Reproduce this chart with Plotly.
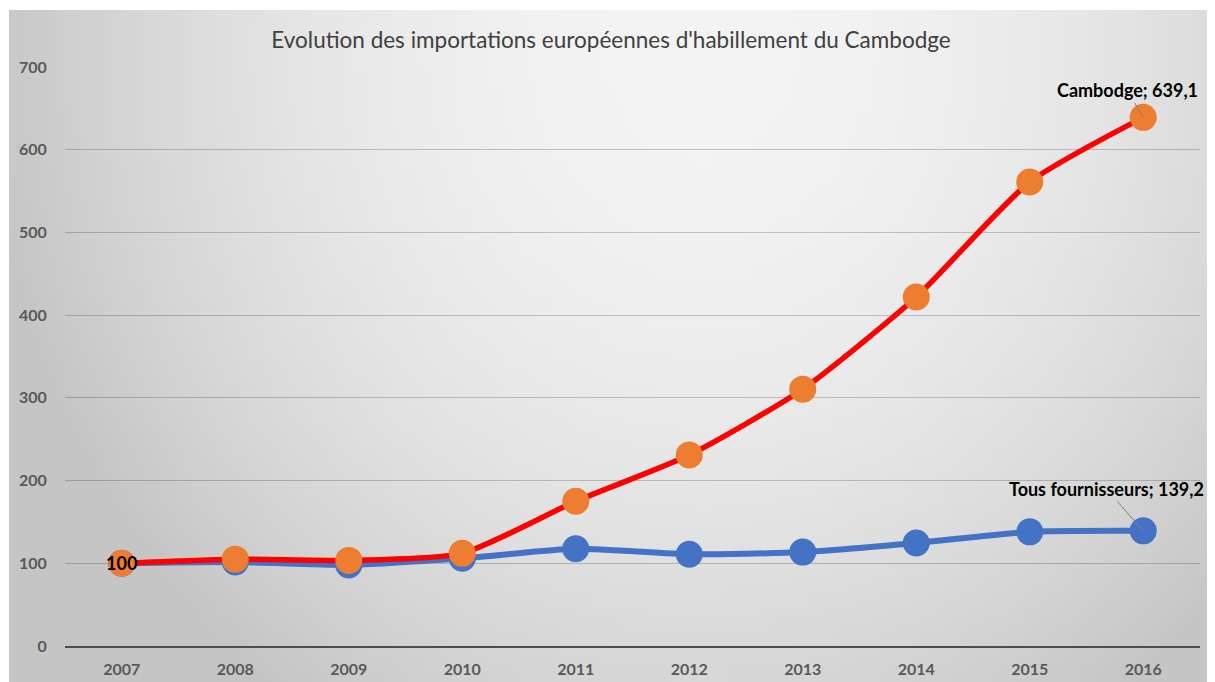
import base64, struct, zlib
import numpy as np
import plotly.graph_objects as go

years = ["2007", "2008", "2009", "2010", "2011", "2012", "2013", "2014", "2015", "2016"]
cambodge = [100, 105, 103.5, 112, 175, 231, 310.5, 422, 561, 639.1]
tous_fournisseurs = [100, 101.5, 98, 106, 117.5, 111, 113.5, 124.5, 138, 139.2]
title_text = "Evolution des importations européennes d'habillement du Cambodge"
y_ticks = [0, 100, 200, 300, 400, 500, 600, 700]

# the page body adds an 8px margin, so figure coordinates = page coordinates - 8
W, H = 1207, 674
L, R, T, B = 57, 1192, 59, 638
BG_X0, BG_Y0 = 1, 2


def gradient_png():
    w, h = 121, 67
    xs = (np.arange(w) + 0.5) / w * (W - BG_X0) + BG_X0 + 8
    ys = (np.arange(h) + 0.5) / h * (H - BG_Y0) + BG_Y0 + 8
    X, Y = np.meshgrid(xs, ys)
    d2 = ((X - 700) / 720) ** 2 + ((Y - 50) / 800) ** 2
    c = 244 - 47 * np.minimum(d2, 1.0)
    arr = np.clip(c, 0, 255).astype(np.uint8)
    rgb = np.stack([arr, arr, arr], axis=-1)
    raw = b"".join(b"\x00" + rgb[i].tobytes() for i in range(h))

    def chunk(tag, data):
        return struct.pack(">I", len(data)) + tag + data + struct.pack(">I", zlib.crc32(tag + data) & 0xFFFFFFFF)

    png = b"\x89PNG\r\n\x1a\n" + chunk(b"IHDR", struct.pack(">IIBBBBB", w, h, 8, 2, 0, 0, 0)) \
        + chunk(b"IDAT", zlib.compress(raw, 9)) + chunk(b"IEND", b"")
    return "data:image/png;base64," + base64.b64encode(png).decode()


pw, ph = R - L, B - T
FONT = "Lato"
idx = list(range(len(years)))

fig = go.Figure()
fig.add_trace(go.Scatter(
    x=idx, y=tous_fournisseurs, mode="lines+markers", name="Tous fournisseurs",
    line=dict(color="#4472C4", width=6, shape="spline", smoothing=0.6),
    marker=dict(color="#4472C4", size=27, line=dict(width=0)),
    showlegend=False,
))
fig.add_trace(go.Scatter(
    x=idx, y=cambodge, mode="lines+markers", name="Cambodge",
    line=dict(color="#FF0000", width=5.5, shape="spline", smoothing=0.6),
    marker=dict(color="#ED7D31", size=27, line=dict(width=0)),
    showlegend=False,
))

fig.add_annotation(x=idx[-1], y=cambodge[-1], text="<b>Cambodge; 639,1</b>",
                   showarrow=True, arrowhead=0, arrowwidth=1, arrowcolor="#7f7f7f",
                   ax=-16, ay=-27, standoff=0,
                   font=dict(family=FONT, size=18, color="#000000"))
fig.add_annotation(x=idx[-1], y=tous_fournisseurs[-1], text="<b>Tous fournisseurs; 139,2</b>",
                   showarrow=True, arrowhead=0, arrowwidth=1, arrowcolor="#7f7f7f",
                   ax=-37, ay=-42, standoff=0,
                   font=dict(family=FONT, size=18, color="#000000"))
fig.add_annotation(x=idx[0], y=cambodge[0], text="<b>100</b>", showarrow=False,
                   font=dict(family=FONT, size=18, color="#000000"))

fig.add_layout_image(dict(
    source=gradient_png(), xref="paper", yref="paper",
    x=(BG_X0 - L) / pw, y=(B - BG_Y0) / ph, sizex=(W - BG_X0) / pw, sizey=(H - BG_Y0) / ph,
    xanchor="left", yanchor="top", sizing="stretch", layer="below",
))

fig.update_layout(
    width=W, height=H,
    margin=dict(l=L, r=W - R, t=T, b=H - B, autoexpand=False),
    paper_bgcolor="#ffffff", plot_bgcolor="rgba(0,0,0,0)",
    title=dict(text=title_text, xref="container", yref="container",
               x=(611 - 8) / W, y=1 - (40 - 8) / H, xanchor="center", yanchor="middle",
               font=dict(family=FONT, size=22.5, color="#404040")),
    xaxis=dict(range=[-0.5, 9.5], tickvals=idx, ticktext=years, showgrid=False, zeroline=False,
               showline=True, linecolor="#4d4d4d", linewidth=2, automargin=False,
               ticks="outside", ticklen=8, tickcolor="rgba(0,0,0,0)",
               tickfont=dict(family=FONT, size=16, color="#595959", weight="bold")),
    yaxis=dict(range=[0, 700], tickvals=y_ticks, showgrid=True, automargin=False,
               gridcolor="rgba(0,0,0,0.2)", gridwidth=1, zeroline=False,
               ticks="outside", ticklen=14, tickcolor="rgba(0,0,0,0)",
               tickfont=dict(family=FONT, size=16, color="#595959", weight="bold")),
)

fig.write_html("out.html")
